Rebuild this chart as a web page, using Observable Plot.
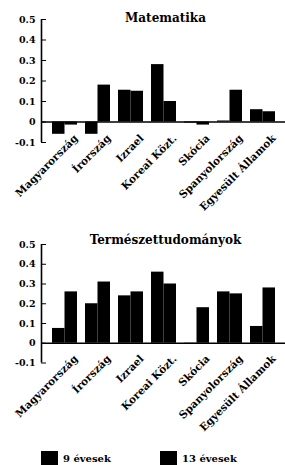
<!DOCTYPE html>
<html>
<head>
<meta charset="utf-8">
<script src="https://cdn.jsdelivr.net/npm/d3@7"></script>
<script src="https://cdn.jsdelivr.net/npm/@observablehq/plot@0.6"></script>
<style>
  html, body { margin: 0; padding: 0; background: #fff; }
  body { width: 285px; height: 465px; overflow: hidden; font-family: "DejaVu Serif", serif; }
  svg { display: block; }
  #legend { position: relative; height: 20px; font: bold 10px "DejaVu Serif", serif; color: #000; }
  .item { position: absolute; top: 6px; display: flex; align-items: center; }
  .sw { width: 17px; height: 14px; background: #000; margin-right: 5px; }
</style>
</head>
<body>
<div id="chart"></div>
<script>
const countries = ["Magyarország", "Írország", "Izrael", "Koreai Közt.", "Skócia", "Spanyolország", "Egyesült Államok"];
const seriesNames = ["9 évesek", "13 évesek"];
const titles = ["Matematika", "Természettudományok"];
const math9  = [-0.06, -0.06, 0.155, 0.28, -0.005, 0.005, 0.06];
const math13 = [-0.015, 0.18, 0.15, 0.10, -0.015, 0.155, 0.05];
const sci9   = [0.075, 0.20, 0.24, 0.36, -0.005, 0.26, 0.085];
const sci13  = [0.26, 0.31, 0.26, 0.30, 0.18, 0.25, 0.28];
const yTicks = [-0.1, 0, 0.1, 0.2, 0.3, 0.4, 0.5];

const font = "DejaVu Serif, serif";
const fmt = d => d === 0 ? "0" : d.toFixed(1);

function panel(title, v9, v13, height, bottomExtra, titleDy) {
  const d9 = countries.map((c, i) => ({country: c, value: v9[i]}));
  const d13 = countries.map((c, i) => ({country: c, value: v13[i]}));
  return Plot.plot({
    width: 285,
    height,
    marginLeft: 41,
    marginRight: 0,
    marginTop: 19,
    marginBottom: height - 142 + bottomExtra,
    style: {fontFamily: font, fontWeight: "bold", fontSize: "9.5px", background: "#fff", color: "#000"},
    x: {domain: countries, paddingInner: 0.25, paddingOuter: 0.3, label: null},
    y: {domain: [-0.1, 0.5], label: null},
    marks: [
      Plot.axisY({ticks: yTicks, tickFormat: fmt, tickSize: -5, tickPadding: 11, label: null, fontSize: 9.5, fontWeight: "bold"}),
      Plot.ruleX([0], {x: null, dx: -122, y1: -0.1, y2: 0.5, strokeWidth: 1.6}),
      Plot.axisX({tickSize: 0, tickRotate: -45, tickPadding: 2, label: null, fontSize: 10.5, fontWeight: "bold", dx: 11, dy: -8}),
      Plot.barY(d9, {x: "country", y: "value", fill: "#000", insetRight: 12.5}),
      Plot.barY(d13, {x: "country", y: "value", fill: "#000", insetLeft: 12.5}),
      Plot.ruleY([0], {strokeWidth: 1.5}),
      Plot.text([title], {frameAnchor: "top", lineAnchor: "bottom", dy: titleDy, dx: 2, fontSize: 12, fontWeight: "bold", text: d => d})
    ]
  });
}

const chart = document.getElementById("chart");
chart.append(panel(titles[0], math9, math13, 225, 0, 2));
chart.append(panel(titles[1], sci9, sci13, 220, 4.5, -1));

const legend = document.createElement("div");
legend.id = "legend";
seriesNames.forEach((name, i) => {
  const item = document.createElement("div");
  item.className = "item";
  item.style.left = (i === 0 ? 41 : 160) + "px";
  const sw = document.createElement("span");
  sw.className = "sw";
  const t = document.createElement("span");
  t.textContent = name;
  item.append(sw, t);
  legend.append(item);
});
chart.append(legend);
</script>
</body>
</html>
